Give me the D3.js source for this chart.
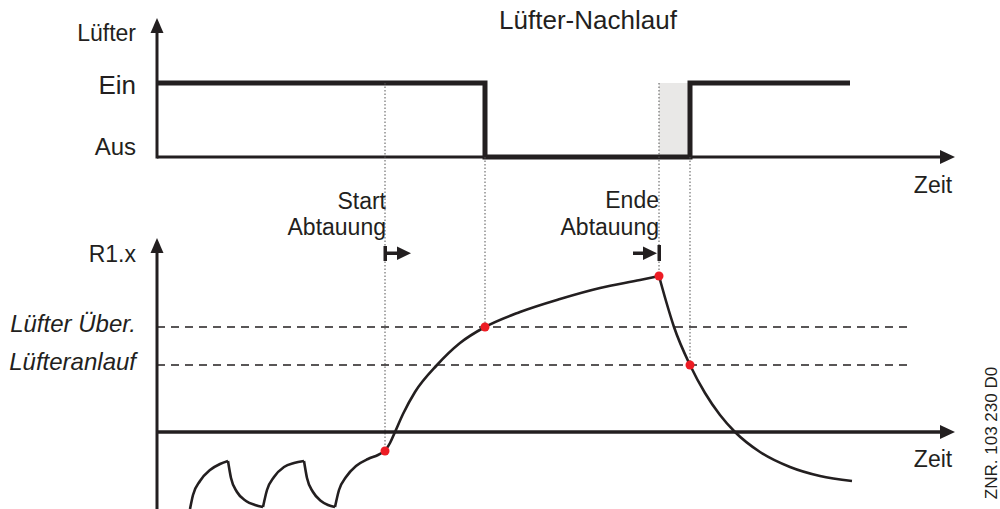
<!DOCTYPE html>
<html>
<head>
<meta charset="utf-8">
<script src="https://cdn.jsdelivr.net/npm/d3@7"></script>
<style>
  html, body { margin: 0; padding: 0; background: #fff; }
  svg { display: block; font-family: "Liberation Sans", Arial, sans-serif; }
</style>
</head>
<body>
<svg id="chart" width="1000" height="509"></svg>
<script>
// ---------- data ----------
// fan state over time (1 = Ein, 0 = Aus)
const fanTimes  = [0, 328, 533, 693];
const fanStates = [1, 0, 1, 1];
const fanStateLabels = ["Aus", "Ein"];

// key events (time units)
const tStartDefrost = 228;
const tFanOff = 328;
const tEndDefrost = 502;
const tFanOn = 533;
const tAxisEnd = 798;

// thresholds on R1.x
const thresholdNames  = ["Lüfter Über.", "Lüfteranlauf"];
const thresholdValues = [105, 67];

// R1.x temperature curve, segments [time, value]
const rise1 = [[33,-77],[36,-63],[43,-49],[53,-38],[63,-32],[71,-29]];
const drop1 = [[71,-29],[74,-46],[80,-60],[89,-69],[98,-73],[106,-75]];
const rise2 = [[106,-75],[110,-58],[117,-45],[127,-35],[137,-31],[147,-29]];
const drop2 = [[147,-29],[150,-46],[156,-60],[164,-69],[171,-73],[178,-75]];
const rise3 = [[178,-75],[182,-58],[189,-45],[199,-34],[211,-27],[221,-23],[228,-19]];
const defrost = [[228,-19],[233,-11],[238,0],[246,18],[258,40],[280,67],[303,89],[328,105],[363,120],[403,133],[443,144],[483,152],[502,156]];
const cooldown = [[502,156],[509,131],[517,105],[533,67],[548,39],[563,17],[578,0],[603,-20],[633,-35],[663,-44],[695,-49]];
const eventPoints = [[228,-19],[328,105],[502,156],[533,67]];

// ---------- setup ----------
const ink = "#231f20";
const svg = d3.select("#chart");

const x = d3.scaleLinear().domain([0, 800]).range([157, 957]);
const yFan = d3.scaleLinear().domain([0, 1]).range([157, 83]);
const yR = d3.scaleLinear().domain([-77, 192]).range([509, 240]);

function arrowRight(g, xt, y) {
  g.append("path").attr("d", `M${xt},${y} L${xt-15},${y-7} L${xt-15},${y+7} Z`).attr("fill", ink);
}
function arrowUp(g, xv, yt) {
  g.append("path").attr("d", `M${xv},${yt} L${xv-6.5},${yt+15} L${xv+6.5},${yt+15} Z`).attr("fill", ink);
}

// ---------- top panel ----------
const topG = svg.append("g");

// gray fan-delay region
topG.append("rect")
  .attr("x", x(tEndDefrost)).attr("y", yFan(1))
  .attr("width", x(tFanOn) - x(tEndDefrost))
  .attr("height", yFan(0) - yFan(1))
  .attr("fill", "#e9e8e7");

// dotted guide lines
const guides = [
  {t: tStartDefrost, y1: yFan(1), y2: yR(-19)},
  {t: tFanOff, y1: yFan(0), y2: yR(105)},
  {t: tEndDefrost, y1: yFan(1), y2: yR(156)},
  {t: tFanOn, y1: yFan(0), y2: yR(67)}
];
svg.append("g").selectAll("line").data(guides).join("line")
  .attr("x1", d => x(d.t)).attr("x2", d => x(d.t))
  .attr("y1", d => d.y1).attr("y2", d => d.y2)
  .attr("stroke", "#555").attr("stroke-width", 1)
  .attr("stroke-dasharray", "1.5,2");

// axes
topG.append("line").attr("x1", x(0)).attr("x2", x(tAxisEnd) - 10)
  .attr("y1", yFan(0)).attr("y2", yFan(0)).attr("stroke", ink).attr("stroke-width", 3);
arrowRight(topG, x(tAxisEnd), yFan(0));
topG.append("line").attr("x1", x(0)).attr("x2", x(0))
  .attr("y1", yFan(0) + 1.5).attr("y2", 28).attr("stroke", ink).attr("stroke-width", 3);
arrowUp(topG, x(0), 18);

// fan signal
const fanData = fanTimes.map((t, i) => [t, fanStates[i]]);
topG.append("path")
  .attr("d", d3.line().x(d => x(d[0])).y(d => yFan(d[1])).curve(d3.curveStepAfter)(fanData))
  .attr("fill", "none").attr("stroke", ink).attr("stroke-width", 5)
  .attr("stroke-linejoin", "miter").attr("stroke-linecap", "butt");

// labels
const lbl = (g, txt, xx, yy, size, anchor) =>
  g.append("text").attr("x", xx).attr("y", yy).attr("fill", ink)
    .attr("font-size", size).attr("text-anchor", anchor).text(txt);

lbl(topG, "Lüfter", 136, 41, 23, "end");
lbl(topG, fanStateLabels[1], 136, 94, 26, "end");
lbl(topG, fanStateLabels[0], 136, 155, 24, "end");
lbl(topG, "Lüfter-Nachlauf", 588, 29, 26, "middle");
lbl(topG, "Zeit", 933, 193, 23, "middle");

lbl(svg, "Start", x(tStartDefrost) + 1, 209, 23, "end");
lbl(svg, "Abtauung", x(tStartDefrost) + 1, 235, 23, "end");
lbl(svg, "Ende", x(tEndDefrost), 208, 23, "end");
lbl(svg, "Abtauung", x(tEndDefrost), 235, 23, "end");

// start / end markers
const mk = svg.append("g");
const xs = x(tStartDefrost), xe = x(tEndDefrost);
mk.append("rect").attr("x", xs - 1.5).attr("y", 246).attr("width", 3.5).attr("height", 15).attr("fill", ink);
mk.append("rect").attr("x", xs).attr("y", 251.5).attr("width", 12).attr("height", 3.5).attr("fill", ink);
mk.append("path").attr("d", `M${xs+26},253.2 L${xs+12},246.5 L${xs+12},260 Z`).attr("fill", ink);
mk.append("rect").attr("x", xe - 1.5).attr("y", 245).attr("width", 3.5).attr("height", 16).attr("fill", ink);
mk.append("rect").attr("x", xe - 26).attr("y", 251.5).attr("width", 12).attr("height", 3.5).attr("fill", ink);
mk.append("path").attr("d", `M${xe-2},253.2 L${xe-16},246.5 L${xe-16},260 Z`).attr("fill", ink);

// ---------- bottom panel ----------
const bot = svg.append("g");

// threshold dashed lines
bot.selectAll("line.th").data(thresholdValues).join("line")
  .attr("class", "th")
  .attr("x1", x(0)).attr("x2", x(750))
  .attr("y1", d => yR(d)).attr("y2", d => yR(d))
  .attr("stroke", ink).attr("stroke-width", 1.4).attr("stroke-dasharray", "8,6");
bot.selectAll("text.th").data(thresholdNames).join("text")
  .attr("class", "th")
  .attr("x", 136).attr("y", (d, i) => yR(thresholdValues[i]) + 5)
  .attr("text-anchor", "end").attr("font-size", 24).attr("font-style", "italic")
  .attr("fill", ink).text(d => d);

// axes
bot.append("line").attr("x1", x(0)).attr("x2", x(tAxisEnd) - 10)
  .attr("y1", yR(0)).attr("y2", yR(0)).attr("stroke", ink).attr("stroke-width", 3.5);
arrowRight(bot, x(tAxisEnd), yR(0));
bot.append("line").attr("x1", x(0)).attr("x2", x(0))
  .attr("y1", 509).attr("y2", 248).attr("stroke", ink).attr("stroke-width", 3);
arrowUp(bot, x(0), 238);
lbl(bot, "R1.x", 136, 262, 23, "end");
lbl(bot, "Zeit", 933, 467, 23, "middle");

// curve
const curveLine = d3.line().x(d => x(d[0])).y(d => yR(d[1])).curve(d3.curveMonotoneX);
bot.selectAll("path.curve").data([rise1, drop1, rise2, drop2, rise3, defrost, cooldown]).join("path")
  .attr("class", "curve")
  .attr("d", d => curveLine(d))
  .attr("fill", "none").attr("stroke", ink).attr("stroke-width", 2.6)
  .attr("stroke-linejoin", "round");

// event dots
bot.selectAll("circle").data(eventPoints).join("circle")
  .attr("cx", d => x(d[0])).attr("cy", d => yR(d[1])).attr("r", 4.5)
  .attr("fill", "#ed1c24");

// drawing number
svg.append("text").attr("transform", "translate(997,433) rotate(-90)")
  .attr("text-anchor", "middle").attr("font-size", 17).attr("fill", ink)
  .text("ZNR. 103 230 D0");
</script>
</body>
</html>
